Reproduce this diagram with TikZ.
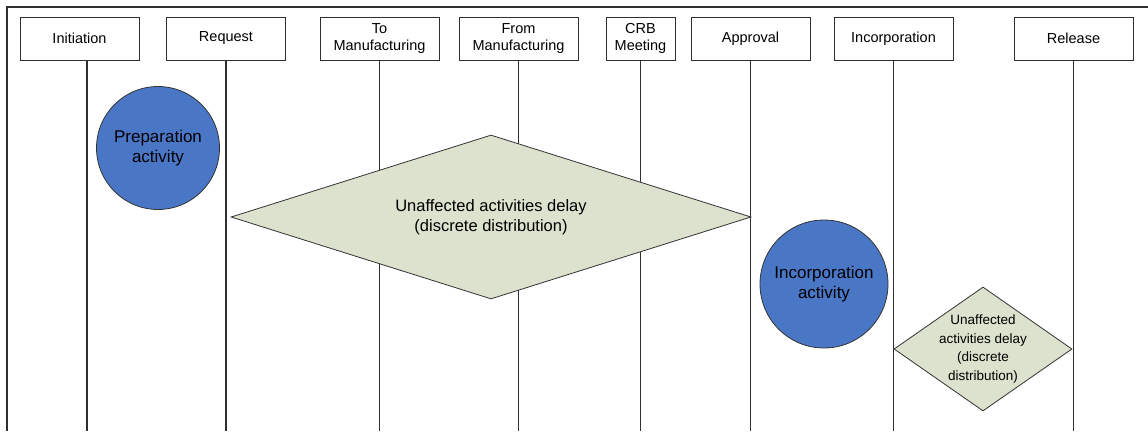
\documentclass[tikz,border=0pt]{standalone}
\usepackage{fontspec}
\setmainfont{Liberation Sans}
\usetikzlibrary{shapes.geometric}
\definecolor{actblue}{HTML}{4A76C6}
\definecolor{delaygreen}{HTML}{DCE2CD}
\definecolor{linegray}{HTML}{303030}

\begin{document}
\begin{tikzpicture}[x=1pt,y=-1pt,
		phase/.style={draw=linegray,line width=0.9pt,fill=white,minimum width=119pt,minimum height=43pt,
			inner sep=1pt,align=center,font=\fontsize{14.5}{17}\selectfont},
		life/.style={draw=linegray,line width=1.1pt},
		activity/.style={circle,draw=black!80,line width=0.8pt,fill=actblue,inner sep=0pt,align=center},
		delay/.style={diamond,draw=black!80,line width=0.8pt,fill=delaygreen,inner sep=0pt,align=center}]
	\useasboundingbox (0,0) rectangle (1148,431);
	% frame
	\coordinate (fb) at (7,431);
	\coordinate (ft) at (7,7);
	\coordinate (fr) at (1148,7);
	\draw[linegray,line width=1.4pt] (fb) -- (ft) -- (fr);
	\coordinate (bottom) at (0,431);
	% phases
	\node[phase] (init) at (79.5,38.5) {Initiation};
	\node[phase] (req) at (226,38.5) {Request};
	\node[phase] (tom) at (379.5,38.5) {To\\Manufacturing};
	\node[phase] (fromm) at (518.5,38.5) {From\\Manufacturing};
	\node[phase,minimum width=69pt] (crb) at (640.5,38.5) {CRB\\Meeting};
	\node[phase] (appr) at (750.5,38.5) {Approval};
	\node[phase] (inc) at (893.5,38.5) {Incorporation};
	\node[phase] (rel) at (1073.5,38.5) {Release};
	% lifelines
	\draw[life] (87,60) -- (87,431);
	\draw[life] (req.south) -- (req.south |- bottom);
	\draw[life] (tom.south) -- (tom.south |- bottom);
	\draw[life] (fromm.south) -- (fromm.south |- bottom);
	\draw[life] (crb.south) -- (crb.south |- bottom);
	\draw[life] (appr.south) -- (appr.south |- bottom);
	\draw[life] (inc.south) -- (inc.south |- bottom);
	\draw[life] (rel.south) -- (rel.south |- bottom);
	% activities and delays
	\node[activity,minimum size=123pt,font=\fontsize{17}{20}\selectfont] (prep) at (158,148) {Preparation\\activity};
	\node[delay,shape aspect=3.17,minimum width=520pt,minimum height=164pt,font=\fontsize{16.5}{20}\selectfont] (udelay) at (491,217)
		{Unaffected activities delay\\(discrete distribution)};
	\node[activity,minimum size=128pt,font=\fontsize{17}{20}\selectfont] (incact) at (824,284) {Incorporation\\activity};
	\node[delay,shape aspect=1.435,inner sep=-6pt,minimum width=178pt,minimum height=124pt,font=\fontsize{13.5}{18.5}\selectfont] (udelay2) at (983,349)
		{Unaffected\\activities delay\\(discrete\\distribution)};
\end{tikzpicture}
\end{document}
